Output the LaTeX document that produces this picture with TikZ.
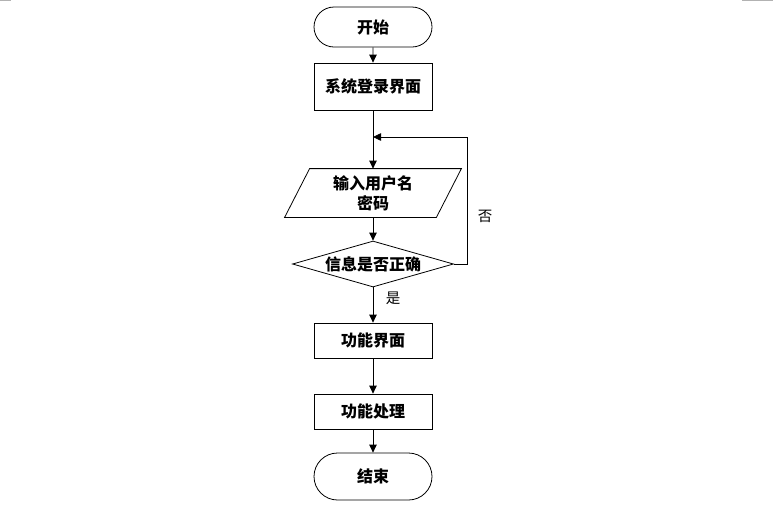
\documentclass[tikz,border=0pt]{standalone}
\usepackage{fontspec}
\newfontfamily\cjk{Noto Sans CJK SC}
\usetikzlibrary{arrows.meta,shapes.geometric,shapes.misc,calc,positioning}

\tikzset{
    texte/.style={font=\cjk\bfseries\fontsize{16}{20}\selectfont},
    terminal/.style={texte, draw, rounded rectangle, minimum width=118pt, inner sep=0pt},
    boite/.style={texte, draw, rectangle, minimum width=118pt, inner sep=0pt},
    saisie/.style={texte, rectangle, minimum width=151pt, minimum height=48pt, inner sep=0pt, align=center},
    test/.style={texte, draw, diamond, aspect=3.5, inner sep=0pt, minimum width=161pt, minimum height=46pt},
    etiquette/.style={font=\cjk\fontsize{14.5}{16}\selectfont}
}

\begin{document}
\begin{tikzpicture}[x=1pt, y=-1pt, >={Triangle[length=8pt,width=7.5pt]}, line width=0.8pt]

    % Cadre de la page
    \useasboundingbox (0,0) rectangle (773,504);
    \draw[gray!60, line width=1pt] (0,0.5) -- (11,0.5);
    \draw[gray!60, line width=1pt] (742,0.5) -- (773,0.5);

    % Debut et connexion
    \node[terminal, minimum height=40pt] (debut) at (373,27) {开始};
    \node[boite, minimum height=47pt] (login) at (373,86.5) {系统登录界面};

    % Saisie (parallelogramme)
    \node[saisie] (saisie) at (373,193) {输入用户名\\密码};
    \draw ($(saisie.north west)+(12.5,0)$) -- ($(saisie.north east)+(12.5,0)$)
        -- ($(saisie.south east)+(-12.5,0)$) -- ($(saisie.south west)+(-12.5,0)$) -- cycle;

    % Verification
    \node[test] (verif) at (373,264) {信息是否正确};

    % Fonctions et fin
    \node[boite, minimum height=35pt] (menu) at (373,340.5) {功能界面};
    \node[boite, minimum height=35pt] (traite) at (373,411.5) {功能处理};
    \node[terminal, minimum height=47pt] (fin) at (373,476.5) {结束};

    % Fleches
    \coordinate (retour) at (373,137);
    \draw[->] (debut) -- (login);
    \draw[->] (login) -- (saisie);
    \draw[->] (saisie) -- (verif);
    \draw[->] (verif) -- (menu);
    \draw[->] (menu) -- (traite);
    \draw[->] (traite) -- (fin);
    \draw[->] (verif.east) -- ++(13,0) |- (retour);

    % Etiquettes
    \node[etiquette] (non) at (485,216) {否};
    \node[etiquette] (oui) at (393,298) {是};

\end{tikzpicture}
\end{document}
